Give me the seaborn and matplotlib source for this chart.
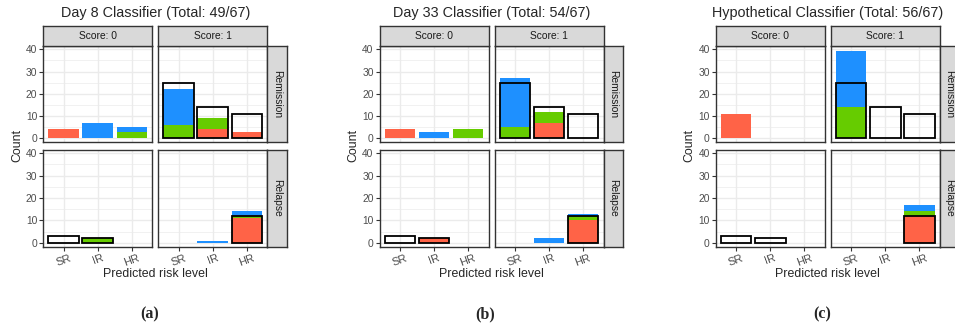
import numpy as np
import pandas as pd
import seaborn as sns
import matplotlib.pyplot as plt

sns.set_style("white")
plt.rcParams["font.family"] = ["Liberation Sans", "DejaVu Sans"]

# categories
risk_levels = ["SR", "IR", "HR"]
outcomes = ["Remission", "Relapse"]
scores = [0, 1]
classifiers = ["day8", "day33", "hypo"]
titles = ["Day 8 Classifier (Total: 49/67)",
          "Day 33 Classifier (Total: 54/67)",
          "Hypothetical Classifier (Total: 56/67)"]
captions = ["(a)", "(b)", "(c)"]

# each list: Remission/Score 0, Remission/Score 1, Relapse/Score 0, Relapse/Score 1  (x SR, IR, HR)
true_counts = [0, 0, 0, 25, 14, 11, 3, 2, 0, 0, 0, 12]

day8_red = [4, 0, 0, 0, 4, 3, 0, 0, 0, 0, 0, 11]
day8_green = [0, 0, 3, 6, 5, 0, 0, 2, 0, 0, 0, 1]
day8_blue = [0, 7, 2, 16, 0, 0, 0, 0, 0, 0, 1, 2]

day33_red = [4, 0, 0, 0, 7, 0, 0, 2, 0, 0, 0, 10]
day33_green = [0, 0, 4, 5, 5, 0, 0, 0, 0, 0, 0, 2]
day33_blue = [0, 3, 0, 22, 0, 0, 0, 0, 0, 0, 2, 1]

hypo_red = [11, 0, 0, 0, 0, 0, 0, 0, 0, 0, 0, 12]
hypo_green = [0, 0, 0, 14, 0, 0, 0, 0, 0, 0, 0, 2]
hypo_blue = [0, 0, 0, 25, 0, 0, 0, 0, 0, 0, 0, 3]

segments = ["red", "green", "blue"]  # stacking order, bottom -> top
fill_colors = {"red": "#FF6347", "green": "#66CC00", "blue": "#1E90FF"}

fills = {
    "day8": [day8_red, day8_green, day8_blue],
    "day33": [day33_red, day33_green, day33_blue],
    "hypo": [hypo_red, hypo_green, hypo_blue],
}

# long table
facet_keys = [(o, s) for o in outcomes for s in scores]
rows = []
for c in classifiers:
    for seg, vals in zip(segments, fills[c]):
        for i, v in enumerate(vals):
            o, s = facet_keys[i // 3]
            rows.append({"classifier": c, "outcome": o, "score": s,
                         "risk": risk_levels[i % 3], "segment": seg, "count": v})
df = pd.DataFrame(rows)
df["segment"] = pd.Categorical(df["segment"], segments, ordered=True)
df = df.sort_values(["classifier", "outcome", "score", "risk", "segment"])
df["cum"] = df.groupby(["classifier", "outcome", "score", "risk"], observed=True)["count"].cumsum()

truth = pd.DataFrame({
    "outcome": [facet_keys[i // 3][0] for i in range(12)],
    "score": [facet_keys[i // 3][1] for i in range(12)],
    "risk": [risk_levels[i % 3] for i in range(12)],
    "count": true_counts,
})

W, H = 955, 329
fig = plt.figure(figsize=(W / 100, H / 100), dpi=100)


def rect(x0, y0, x1, y1):
    return [x0 / W, 1 - y1 / H, (x1 - x0) / W, (y1 - y0) / H]


border = "#333333"
grid_c = "#EBEBEB"
strip_c = "#D9D9D9"
row_y = [(45.7, 142.5), (149.7, 247.0)]

for k, c in enumerate(classifiers):
    left = 43.3 + 336.2 * k
    col_x = [(left, left + 109), (left + 115, left + 224)]

    for ci, s in enumerate(scores):
        for ri, o in enumerate(outcomes):
            x0, x1 = col_x[ci]
            y0, y1 = row_y[ri]
            ax = fig.add_axes(rect(x0, y0, x1, y1))
            sub = df[(df["classifier"] == c) & (df["outcome"] == o) & (df["score"] == s)]
            sns.barplot(data=sub, x="risk", y="cum", hue="segment",
                        hue_order=segments[::-1], palette=fill_colors,
                        order=risk_levels, dodge=False, width=0.9, saturation=1,
                        linewidth=0, errorbar=None, legend=False, ax=ax)
            tsub = truth[(truth["outcome"] == o) & (truth["score"] == s) & (truth["count"] > 0)]
            if len(tsub):
                sns.barplot(data=tsub, x="risk", y="count", order=risk_levels,
                            fill=False, color="black", linewidth=1.3, width=0.9,
                            errorbar=None, ax=ax)
            ax.set_xlim(-0.6, 2.6)
            ax.set_ylim(-1.9, 41.6)
            ax.set_yticks([0, 10, 20, 30, 40])
            ax.set_yticks([5, 15, 25, 35], minor=True)
            ax.grid(which="major", color=grid_c, lw=1.0)
            ax.grid(which="minor", axis="y", color=grid_c, lw=0.5)
            ax.set_axisbelow(True)
            ax.set_xlabel("")
            ax.set_ylabel("")
            for sp in ax.spines.values():
                sp.set_color(border)
                sp.set_linewidth(1.0)
            ax.tick_params(which="minor", length=0)
            ax.tick_params(axis="both", colors=border, labelcolor="#4D4D4D",
                           labelsize=7.4, length=2.7, width=0.8, pad=1.5)
            if ci == 0:
                ax.tick_params(axis="y", left=True, labelleft=True)
            else:
                ax.tick_params(axis="y", left=False, labelleft=False)
            if ri == 1:
                ax.tick_params(axis="x", bottom=True, labelbottom=True, labelsize=8)
                for lab in ax.get_xticklabels():
                    lab.set_rotation(20)
            else:
                ax.tick_params(axis="x", bottom=False, labelbottom=False)

        # top strip
        x0, x1 = col_x[ci]
        sax = fig.add_axes(rect(x0, 25.7, x1, 45.7))
        sax.set_facecolor(strip_c)
        sax.set_xticks([])
        sax.set_yticks([])
        for sp in sax.spines.values():
            sp.set_color(border)
            sp.set_linewidth(1.0)
        sax.text(0.5, 0.5, f"Score: {s}", ha="center", va="center",
                 fontsize=7.4, color="#1A1A1A", transform=sax.transAxes)

    # right strips
    rx0 = col_x[1][1]
    for ri, o in enumerate(outcomes):
        y0, y1 = row_y[ri]
        sax = fig.add_axes(rect(rx0, y0, rx0 + 19.5, y1))
        sax.set_facecolor(strip_c)
        sax.set_xticks([])
        sax.set_yticks([])
        for sp in sax.spines.values():
            sp.set_color(border)
            sp.set_linewidth(1.0)
        sax.text(0.5, 0.5, o, ha="center", va="center", rotation=-90,
                 fontsize=7.4, color="#1A1A1A", transform=sax.transAxes)

    cx = (col_x[0][0] + col_x[1][1]) / 2
    fig.text(cx / W, 1 - 17 / H, titles[k], ha="center", va="baseline", fontsize=10.4)
    fig.text(cx / W, 1 - 277 / H, "Predicted risk level", ha="center",
             va="baseline", fontsize=8.9)
    fig.text((left - 26) / W, 1 - 146 / H, "Count", ha="center", va="center",
             rotation=90, fontsize=8.9)
    fig.text((cx - 6) / W, 1 - 318 / H, captions[k], ha="center", va="baseline",
             fontsize=11.5, fontweight="bold", family="Liberation Serif")

fig.savefig("out.png", dpi=100)
